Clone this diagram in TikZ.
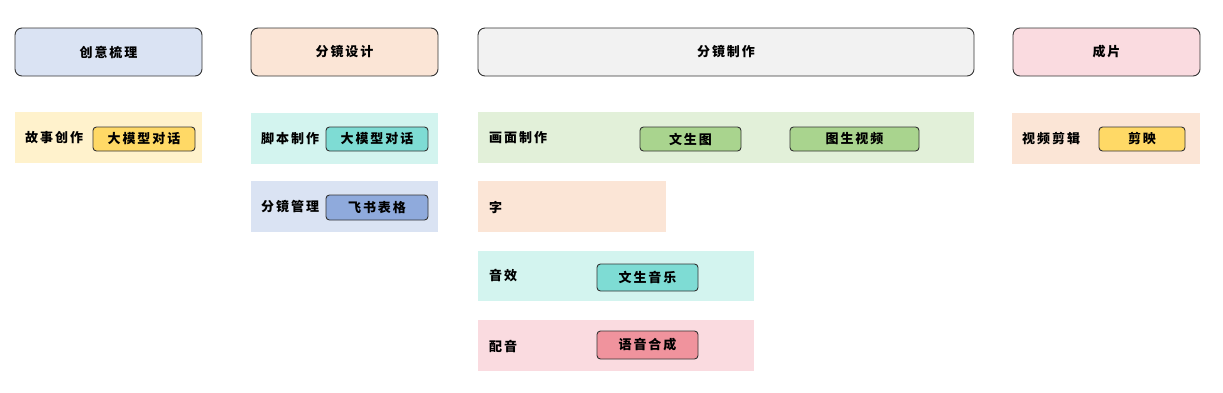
\documentclass[tikz,border=0pt]{standalone}
\usepackage{fontspec}
\newfontfamily\cjk{Noto Sans CJK SC}[LetterSpace=15]
\definecolor{hblue}{HTML}{DAE3F3}
\definecolor{hpeach}{HTML}{FBE5D6}
\definecolor{hgray}{HTML}{F2F2F2}
\definecolor{hpink}{HTML}{FADBE0}
\definecolor{pyellow}{HTML}{FFF2CC}
\definecolor{pmint}{HTML}{D3F4EF}
\definecolor{pgreen}{HTML}{E2F0D9}
\definecolor{byellow}{HTML}{FFD966}
\definecolor{bmint}{HTML}{7EDCD4}
\definecolor{bblue}{HTML}{8FAADC}
\definecolor{bgreen}{HTML}{A9D48E}
\definecolor{bpink}{HTML}{F0939D}
\definecolor{edge}{HTML}{333333}
\tikzset{
  head/.style={draw=edge, line width=0.9pt, rounded corners=7pt, minimum height=48pt, inner sep=0pt},
  panel/.style={anchor=north west, inner sep=0pt},
  tool/.style={draw=edge, line width=0.9pt, rounded corners=3.5pt, minimum height=24pt, inner sep=0pt},
  lbl/.style={anchor=west, inner sep=0pt}
}
\begin{document}
\begin{tikzpicture}[x=1pt, y=-1pt, font=\cjk\bfseries\fontsize{13}{15}\selectfont]
  \useasboundingbox (0,0) rectangle (1223,392);
  % stage headers
  \node[head, fill=hblue, minimum width=187pt] (hIdea) at (108.5,52) {创意梳理};
  \node[head, fill=hpeach, minimum width=187pt] (hBoard) at (344.5,52) {分镜设计};
  \node[head, fill=hgray, minimum width=496pt] (hMake) at (726,52) {分镜制作};
  \node[head, fill=hpink, minimum width=187pt] (hFinal) at (1106.5,52) {成片};

  % panels
  \node[panel, fill=pyellow, minimum width=187pt, minimum height=51pt] (pStory) at (15,112) {};
  \node[panel, fill=pmint, minimum width=187pt, minimum height=51pt] (pScript) at (251,113) {};
  \node[panel, fill=hblue, minimum width=187pt, minimum height=51pt] (pManage) at (251,181) {};
  \node[panel, fill=pgreen, minimum width=496pt, minimum height=51pt] (pImage) at (478,112) {};
  \node[panel, fill=hpeach, minimum width=188pt, minimum height=51pt] (pText) at (478,181) {};
  \node[panel, fill=pmint, minimum width=276pt, minimum height=50pt] (pSound) at (478,251) {};
  \node[panel, fill=hpink, minimum width=276pt, minimum height=51pt] (pVoice) at (478,320) {};
  \node[panel, fill=hpeach, minimum width=188pt, minimum height=51pt] (pEdit) at (1012,113) {};

  % panel labels
  \node[lbl] (lStory) at (25,138) {故事创作};
  \node[lbl] (lScript) at (261,139) {脚本制作};
  \node[lbl] (lManage) at (261,207) {分镜管理};
  \node[lbl] (lImage) at (489,138) {画面制作};
  \node[lbl] (lText) at (489,207) {字};
  \node[lbl] (lSound) at (489,276) {音效};
  \node[lbl] (lVoice) at (489,346) {配音};
  \node[lbl] (lEdit) at (1022,139) {视频剪辑};

  % tools
  \node[tool, fill=byellow, minimum width=102pt] (tStory) at (144,139) {大模型对话};
  \node[tool, fill=bmint, minimum width=102pt] (tScript) at (377,139) {大模型对话};
  \node[tool, fill=bblue, minimum width=102pt, minimum height=25pt] (tSheet) at (377,207.5) {飞书表格};
  \node[tool, fill=bgreen, minimum width=101pt] (tT2I) at (690.5,139) {文生图};
  \node[tool, fill=bgreen, minimum width=129pt] (tI2V) at (854.5,139) {图生视频};
  \node[tool, fill=bmint, minimum width=101pt, minimum height=27pt] (tMusic) at (647.5,277.5) {文生音乐};
  \node[tool, fill=bpink, minimum width=101pt, minimum height=28pt] (tTTS) at (647.5,345) {语音合成};
  \node[tool, fill=byellow, minimum width=86pt] (tJY) at (1142,139) {剪映};
\end{tikzpicture}
\end{document}
